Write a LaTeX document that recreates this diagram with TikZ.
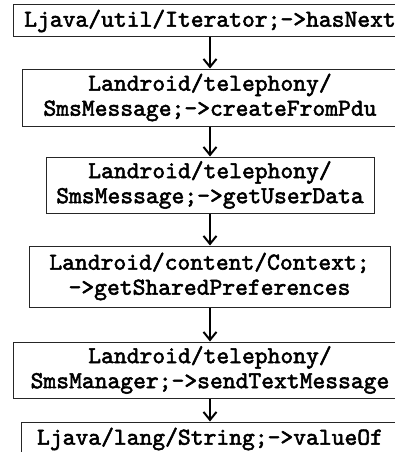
\documentclass[tikz,border=0pt]{standalone}
\usepackage{fontspec}
\newfontfamily\codefont{lmmono10-regular.otf}[FakeBold=2.2]
\usetikzlibrary{arrows.meta}
\tikzset{
  callbox/.style={draw=black!85, line width=1pt, fill=white, rectangle,
    inner sep=0pt, align=center, text=black,
    font=\codefont\fontsize{24.4}{25}\selectfont},
  flow/.style={line width=2pt, -{Straight Barb[length=8pt,width=13pt,line width=2pt]}}
}
\begin{document}
\begin{tikzpicture}[x=1pt,y=-1pt]
  \useasboundingbox (0,0) rectangle (395,452);
  \clip (0,0) rectangle (395,452);
  \fill[white] (0,0) rectangle (395,452);

  % call chain, one box per invoked method
  \node[callbox, minimum width=394pt, minimum height=32pt] (b1) at (210,21)
    {Ljava/util/Iterator;->hasNext};
  \node[callbox, minimum width=376pt, minimum height=57pt] (b2) at (210,97.5)
    {Landroid/telephony/\\SmsMessage;->createFromPdu};
  \node[callbox, minimum width=328pt, minimum height=56pt] (b3) at (210,185)
    {Landroid/telephony/\\SmsMessage;->getUserData};
  \node[callbox, minimum width=361pt, minimum height=61pt] (b4) at (209.5,276.5)
    {Landroid/content/Context;\\->getSharedPreferences};
  \node[callbox, minimum width=394pt, minimum height=56pt] (b5) at (210,370)
    {Landroid/telephony/\\SmsManager;->sendTextMessage};
  \node[callbox, minimum width=378pt, minimum height=34pt] (b6) at (210,439)
    {Ljava/lang/String;->valueOf};

  % arrows between consecutive calls
  \draw[flow] (b1.south -| 210,0) -- (b2.north -| 210,0);
  \draw[flow] (b2.south -| 210,0) -- (b3.north -| 210,0);
  \draw[flow] (b3.south -| 210,0) -- (b4.north -| 210,0);
  \draw[flow] (b4.south -| 210,0) -- (b5.north -| 210,0);
  \draw[flow] (b5.south -| 210,0) -- (b6.north -| 210,0);
\end{tikzpicture}
\end{document}
